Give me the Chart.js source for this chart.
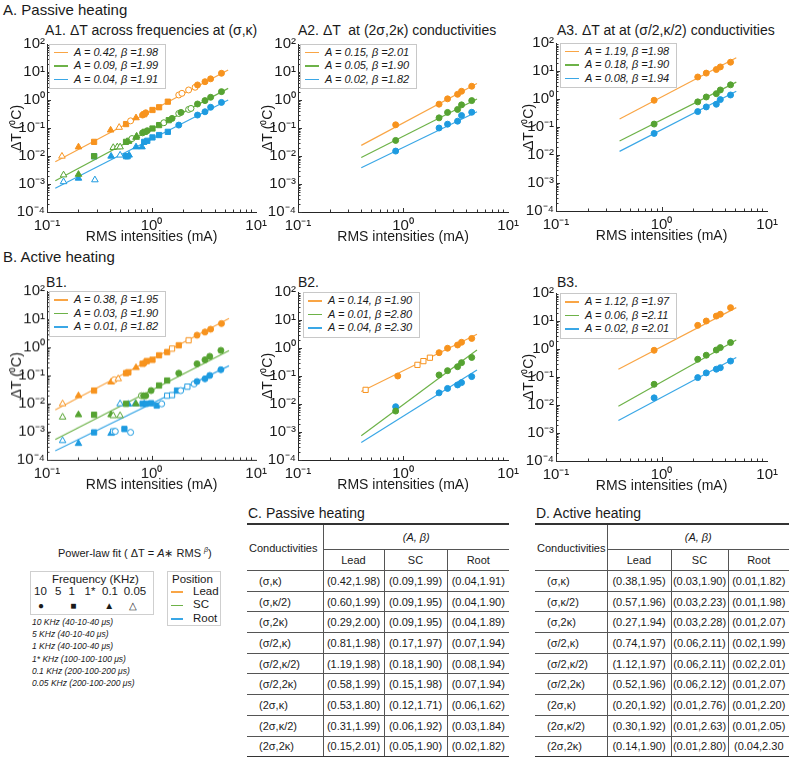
<!DOCTYPE html>
<html>
<head>
<meta charset="utf-8">
<script src="https://cdn.jsdelivr.net/npm/chart.js@4.4.1/dist/chart.umd.min.js"></script>
<style>
  body { margin: 0; width: 800px; height: 759px; background: #fff; position: relative; overflow: hidden;
         font-family: "Liberation Sans", Arial, sans-serif; color: #1a1a1a; }
  .abs { position: absolute; white-space: nowrap; }
  canvas { position: absolute; }
  .sec { font-size: 15px; }
  .ttl { font-size: 14px; }
  .lg { position: absolute; border: 1px solid #c8c8c8; background: #fff; font-size: 11px; font-style: italic;
        padding: 1px 7px 2px 4px; box-sizing: border-box; }
  .lg div { height: 13.5px; line-height: 13.5px; white-space: nowrap; }
  .lg b { display: inline-block; width: 14px; height: 1.5px; vertical-align: middle; margin-right: 6px; }
  table.t { position: absolute; border-collapse: collapse; table-layout: fixed; font-size: 11px; }
  table.t td { border-top: 1px solid #555; padding: 0; text-align: center; height: 19.7px; }
  table.t tr:first-child td { border-top: 2px solid #333; height: 24px; }
  table.t tr:nth-child(2) td { height: 20px; }
  table.t tr:last-child td { border-bottom: 1.5px solid #333; }
  table.t td.v { border-left: 1px solid #555; }
  table.t td.c { text-align: left; padding-left: 12px; }
  .box { position: absolute; border: 1px solid #cfcfcf; box-sizing: border-box; }
  .note { font-size: 8.5px; font-style: italic; }
</style>
</head>
<body>
<div class="abs sec" style="left:3px;top:1px">A. Passive heating</div>
<div class="abs sec" style="left:3px;top:248px">B. Active heating</div>

<div class="abs ttl" style="left:45px;top:22px">A1. ΔT across frequencies at (σ,κ)</div>
<div class="abs ttl" style="left:298px;top:22px">A2. ΔT &nbsp;at (2σ,2κ) conductivities</div>
<div class="abs ttl" style="left:557px;top:22px">A3. ΔT at at (σ/2,κ/2) conductivities</div>
<div class="abs ttl" style="left:46px;top:274px">B1.</div>
<div class="abs ttl" style="left:298px;top:274px">B2.</div>
<div class="abs ttl" style="left:557px;top:274px">B3.</div>

<div class="abs" style="left:58px;top:546px;font-size:11px">Power-law fit ( ΔT = <i>A</i>∗ RMS <sup style="font-size:7px"><i>β</i></sup>)</div>
<div class="box" style="left:30px;top:571px;width:124px;height:44px"></div>
<div class="abs" style="left:52px;top:573px;font-size:11.5px">Frequency (KHz)</div>
<div id="freq"></div>
<div class="box" style="left:167px;top:571px;width:54px;height:55px"></div>
<div class="abs" style="left:172px;top:573px;font-size:11.5px">Position</div>
<div id="pos"></div>
<div id="notes"></div>

<div class="abs ttl" style="left:248px;top:505px">C. Passive heating</div>
<div class="abs ttl" style="left:536px;top:505px">D. Active heating</div>

<script>
// ---- panel data (x in mA, y in degC) ----
// marks: c filled circle, o open circle, s filled square, q open square, t filled triangle, v open triangle
const tenX = [0.85, 2.2, 2.65, 3.3, 3.6, 4.5];

const a1LeadX = [0.139, 0.20, 0.282, 0.406, 0.49, 0.57, 0.63, 0.71, 0.82, 0.85, 0.88, 1.02, 1.18, 1.43, 1.82, 1.95, 2.26, 2.61, 2.75, 3.24, 3.67, 4.66];
const a1LeadY = [0.0098, 0.021, 0.032, 0.084, 0.105, 0.138, 0.18, 0.23, 0.29, 0.31, 0.35, 0.44, 0.55, 0.87, 1.51, 1.73, 2.28, 2.85, 3.45, 4.5, 5.7, 9.0];
const a1LeadM = 'v t s t v s o t c s c s s s o o o o c c c c';
const a1ScX = [0.144, 0.20, 0.282, 0.43, 0.47, 0.50, 0.57, 0.61, 0.65, 0.71, 0.72, 0.82, 0.86, 0.91, 1.02, 1.18, 1.31, 1.46, 1.57, 1.82, 1.91, 2.26, 2.38, 2.75, 3.24, 3.67, 4.66];
const a1ScY = [0.0021, 0.0022, 0.0098, 0.020, 0.021, 0.021, 0.032, 0.035, 0.042, 0.046, 0.051, 0.067, 0.073, 0.080, 0.096, 0.127, 0.154, 0.19, 0.22, 0.33, 0.36, 0.46, 0.50, 0.72, 0.95, 1.25, 1.99];
const a1ScM = 'v t s v v v s s o t t c s c s s o s c o c o o c c c c';
const a1RootX = [0.144, 0.20, 0.282, 0.287, 0.41, 0.50, 0.57, 0.59, 0.61, 0.71, 0.81, 0.85, 0.91, 1.02, 1.18, 1.43, 1.82, 2.75, 3.24, 3.67, 4.66];
const a1RootY = [0.0012, 0.0016, 0.0098, 0.0014, 0.0098, 0.0107, 0.0098, 0.0098, 0.0107, 0.021, 0.021, 0.032, 0.035, 0.046, 0.056, 0.073, 0.127, 0.29, 0.38, 0.55, 0.82];
const a1RootM = 'v t s v t v s s t t t s s s s s c c c c c';
const a1FitX = [0.12, 5.4];
const a1FitLead = [0.0062, 11.8], a1FitSc = [0.0013, 2.6], a1FitRoot = [0.0007, 1.0];

const a2Lead = [0.13, 0.71, 1.1, 1.6, 2.05, 3.1];
const a2Sc = [0.036, 0.23, 0.36, 0.46, 0.67, 0.95];
const a2Root = [0.015, 0.10, 0.137, 0.175, 0.28, 0.365];
const a2FitX = [0.4, 5.05];
const a2FitLead = [0.024, 3.9], a2FitSc = [0.0088, 1.09], a2FitRoot = [0.0038, 0.38];

const a3Lead = [0.9, 6.1, 8.4, 11.3, 14, 20.6];
const a3Sc = [0.127, 0.79, 1.18, 1.55, 2.1, 3.2];
const a3Root = [0.059, 0.355, 0.52, 0.65, 0.95, 1.39];
const a3FitX = [0.4, 5.1];
const a3FitLead = [0.194, 29.9], a3FitSc = [0.0315, 4.0], a3FitRoot = [0.0135, 1.89];

const b1LeadX = [0.141, 0.20, 0.282, 0.41, 0.44, 0.48, 0.57, 0.60, 0.71, 0.82, 0.85, 0.90, 1.02, 1.18, 1.41, 1.57, 1.82, 2.26, 2.72, 3.24, 3.67, 4.66];
const b1LeadY = [0.0098, 0.019, 0.029, 0.058, 0.070, 0.076, 0.121, 0.13, 0.19, 0.26, 0.275, 0.325, 0.36, 0.52, 0.68, 0.9, 1.18, 1.78, 2.7, 3.5, 4.4, 7.0];
const b1LeadM = 'v t s t o v s s t s c s s s s q s q c c c c';
const b1ScX = [0.141, 0.20, 0.282, 0.41, 0.43, 0.50, 0.57, 0.71, 0.80, 0.84, 0.88, 0.99, 1.18, 1.41, 1.82, 2.72, 3.24, 3.6, 4.6];
const b1ScY = [0.0033, 0.004, 0.004, 0.004, 0.0037, 0.0037, 0.0098, 0.0098, 0.019, 0.019, 0.019, 0.029, 0.044, 0.066, 0.12, 0.26, 0.36, 0.48, 0.78];
const b1ScM = 'v t s t v v s t o c c c s s c c c c c';
const b1RootX = [0.141, 0.20, 0.282, 0.41, 0.43, 0.45, 0.50, 0.55, 0.60, 0.63, 0.70, 0.82, 0.85, 0.88, 0.99, 1.12, 1.25, 1.41, 1.57, 1.75, 1.9, 2.2, 2.55, 2.72, 3.24, 3.6, 4.6];
const b1RootY = [0.00048, 0.00038, 0.00095, 0.00087, 0.00103, 0.00103, 0.0098, 0.00125, 0.0095, 0.00095, 0.0098, 0.0098, 0.0098, 0.0098, 0.0103, 0.0085, 0.0098, 0.019, 0.02, 0.029, 0.029, 0.040, 0.05, 0.061, 0.076, 0.1, 0.16];
const b1RootM = 'v t s t q o v s t o t s t s s s o q q s o q o c c c c';
const b1FitX = [0.12, 5.5];
const b1FitLead = [0.006, 10.6], b1FitSc = [0.00053, 0.77], b1FitRoot = [0.00021, 0.22];

const b2LeadX = [0.44, 0.89, 1.37, 1.56, 1.8, 2.2, 2.65, 3.3, 3.6, 4.5];
const b2LeadY = [0.032, 0.10, 0.25, 0.34, 0.45, 0.68, 0.98, 1.28, 1.6, 2.2];
const b2LeadM = 'q c q q q c c c c c';
const b2Sc = [0.0056, 0.109, 0.155, 0.215, 0.30, 0.46];
const b2Root = [0.008, 0.025, 0.036, 0.048, 0.058, 0.095];
const b2FitX = [0.4, 5.05];
const b2FitLead = [0.028, 3.1], b2FitSc = [0.00074, 0.85], b2FitRoot = [0.00042, 0.165];

const b3Lead = [0.9, 7.0, 10, 15, 17.4, 30];
const b3Sc = [0.055, 0.43, 0.6, 0.92, 1.12, 1.7];
const b3Root = [0.018, 0.095, 0.14, 0.19, 0.215, 0.37];
const b3FitX = [0.39, 5.1];
const b3FitLead = [0.19, 30], b3FitSc = [0.009, 2.1], b3FitRoot = [0.0028, 0.5];

// legend values (A, beta) per panel
const a1Params = [['0.42', '1.98'], ['0.09', '1.99'], ['0.04', '1.91']];
const a2Params = [['0.15', '2.01'], ['0.05', '1.90'], ['0.02', '1.82']];
const a3Params = [['1.19', '1.98'], ['0.18', '1.90'], ['0.08', '1.94']];
const b1Params = [['0.38', '1.95'], ['0.03', '1.90'], ['0.01', '1.82']];
const b2Params = [['0.14', '1.90'], ['0.01', '2.80'], ['0.04', '2.30']];
const b3Params = [['1.12', '1.97'], ['0.06', '2.11'], ['0.02', '2.01']];

const xTickVals = [0.1, 1, 10];
const yTickVals = [1e-4, 1e-3, 1e-2, 1e-1, 1, 10, 100];

// tables
const conductivities = ['(σ,κ)', '(σ,κ/2)', '(σ,2κ)', '(σ/2,κ)', '(σ/2,κ/2)', '(σ/2,2κ)', '(2σ,κ)', '(2σ,κ/2)', '(2σ,2κ)'];
const passiveLead = ['(0.42,1.98)', '(0.60,1.99)', '(0.29,2.00)', '(0.81,1.98)', '(1.19,1.98)', '(0.58,1.99)', '(0.53,1.80)', '(0.31,1.99)', '(0.15,2.01)'];
const passiveSC = ['(0.09,1.99)', '(0.09,1.95)', '(0.09,1.95)', '(0.17,1.97)', '(0.18,1.90)', '(0.15,1.98)', '(0.12,1.71)', '(0.06,1.92)', '(0.05,1.90)'];
const passiveRoot = ['(0.04,1.91)', '(0.04,1.90)', '(0.04,1.89)', '(0.07,1.94)', '(0.08,1.94)', '(0.07,1.94)', '(0.06,1.62)', '(0.03,1.84)', '(0.02,1.82)'];
const activeLead = ['(0.38,1.95)', '(0.57,1.96)', '(0.27,1.94)', '(0.74,1.97)', '(1.12,1.97)', '(0.52,1.96)', '(0.20,1.92)', '(0.30,1.92)', '(0.14,1.90)'];
const activeSC = ['(0.03,1.90)', '(0.03,2.23)', '(0.03,2.28)', '(0.06,2.11)', '(0.06,2.11)', '(0.06,2.12)', '(0.01,2.76)', '(0.01,2.63)', '(0.01,2.80)'];
const activeRoot = ['(0.01,1.82)', '(0.01,1.98)', '(0.01,2.07)', '(0.02,1.99)', '(0.02,2.01)', '(0.01,2.07)', '(0.01,2.20)', '(0.01,2.05)', '(0.04,2.30'];

const positions = ['Lead', 'SC', 'Root'];
const freqLabels = ['10', '5', '1', '1*', '0.1', '0.05'];
const freqNotes = ['10 KHz (40-10-40 μs)', '5 KHz (40-10-40 μs)', '1 KHz (40-100-40 μs)', '1* KHz (100-100-100 μs)', '0.1 KHz (200-100-200 μs)', '0.05 KHz (200-100-200 μs)'];

// ---- drawing ----
const colors = ['#F7931E', '#56A332', '#1E9BE0'];
const lineColors = ['#F9A545', '#6DB248', '#3AA7E6'];
const FONT = '"Liberation Sans", Arial, sans-serif';
Chart.defaults.font.family = FONT;
Chart.defaults.color = '#1a1a1a';

const SUP = { '-': '⁻', '0': '⁰', '1': '¹', '2': '²', '3': '³', '4': '⁴' };
function powLabel(v) {
    var e = Math.round(Math.log10(v));
    return '10' + String(e).split('').map(ch => SUP[ch]).join('');
}

const styleOf = { c: 'circle', o: 'circle', s: 'rect', q: 'rect', t: 'triangle', v: 'triangle' };
const radiusOf = { c: 3, o: 3, s: 3.7, q: 3.7, t: 3.8, v: 3.8 };

const innerTicks = {
    id: 'innerTicks',
    afterDraw(chart) {
        const { ctx, chartArea: a, scales: { x, y } } = chart;
        ctx.save();
        ctx.strokeStyle = '#333';
        ctx.lineWidth = 1;
        ctx.beginPath();
        for (let e = -1; e <= 0; e++) {
            for (let k = 1; k <= 9; k++) {
                const px = Math.round(x.getPixelForValue(k * Math.pow(10, e))) + 0.5;
                const len = k === 1 ? 4 : 2.5;
                ctx.moveTo(px, a.bottom); ctx.lineTo(px, a.bottom - len);
            }
        }
        for (let e = -4; e <= 1; e++) {
            for (let k = 1; k <= 9; k++) {
                const py = Math.round(y.getPixelForValue(k * Math.pow(10, e))) + 0.5;
                const len = k === 1 ? 4 : 2.5;
                ctx.moveTo(a.left, py); ctx.lineTo(a.left + len, py);
            }
        }
        ctx.stroke();
        ctx.restore();
    }
};

function scatterSet(xs, ys, marks, i) {
    var m = marks ? marks.split(' ') : xs.map(() => 'c');
    return {
        data: xs.map((x, j) => ({ x: x, y: ys[j] })),
        pointStyle: ctx => styleOf[m[ctx.dataIndex]],
        pointRadius: ctx => radiusOf[m[ctx.dataIndex]],
        pointBorderColor: colors[i],
        pointBackgroundColor: ctx => ('oqv'.indexOf(m[ctx.dataIndex]) >= 0 ? '#fff' : colors[i]),
        pointBorderWidth: 1,
        order: 0
    };
}

function fitSet(fx, fy, i) {
    return {
        data: [{ x: fx[0], y: fy[0] }, { x: fx[1], y: fy[1] }],
        showLine: true,
        borderColor: lineColors[i],
        borderWidth: 1.2,
        pointRadius: 0,
        order: 1
    };
}

function makePanel(p) {
    var T = p.top - 12, W = p.right + 14 - p.L, H = p.bottom + 36 - T;
    var c = document.createElement('canvas');
    c.width = W; c.height = H;
    c.style.left = p.L + 'px'; c.style.top = T + 'px';
    c.style.width = W + 'px'; c.style.height = H + 'px';
    document.body.appendChild(c);

    new Chart(c, {
        type: 'scatter',
        data: { datasets: p.datasets },
        options: {
            responsive: false,
            animation: false,
            devicePixelRatio: 1,
            events: [],
            layout: { padding: { left: 0, top: 12, right: 14, bottom: 0 } },
            plugins: { legend: { display: false }, tooltip: { enabled: false } },
            scales: {
                x: {
                    type: 'logarithmic', min: 0.1, max: 10,
                    afterFit: s => { s.height = 36; },
                    afterBuildTicks: s => { s.ticks = xTickVals.map(v => ({ value: v })); },
                    grid: { display: false, drawTicks: false },
                    border: { display: true, color: '#262626', width: 1 },
                    ticks: { autoSkip: false, maxRotation: 0, padding: 5, font: { size: 15 }, callback: v => powLabel(v) },
                    title: { display: true, text: 'RMS intensities (mA)', font: { size: 14 }, padding: { top: 0, bottom: 2.6 } }
                },
                y: {
                    type: 'logarithmic', min: 1e-4, max: 100,
                    afterFit: s => { s.width = p.left - p.L; },
                    afterBuildTicks: s => { s.ticks = yTickVals.map(v => ({ value: v })); },
                    grid: { display: false, drawTicks: false },
                    border: { display: true, color: '#262626', width: 1 },
                    ticks: { autoSkip: false, padding: 2, font: { size: 15 }, callback: v => powLabel(v) },
                    title: { display: true, text: 'ΔT (⁰C)', font: { size: 14 }, padding: { top: p.yTitle - p.L - 8.4, bottom: 0 } }
                }
            }
        },
        plugins: [innerTicks]
    });

    // legend box inside the axes
    var lg = document.createElement('div');
    lg.className = 'lg';
    lg.style.left = p.lgLeft + 'px';
    lg.style.top = p.top + 'px';
    lg.innerHTML = p.params.map((a, i) =>
        '<div><b style="background:' + lineColors[i] + '"></b>A = ' + a[0] + ', β =' + a[1] + '</div>').join('');
    document.body.appendChild(lg);
}

function tenSets(lead, sc, root) {
    return [scatterSet(tenX, lead, null, 0), scatterSet(tenX, sc, null, 1), scatterSet(tenX, root, null, 2)];
}
function fitSets(fx, l, s, r) {
    return [fitSet(fx, l, 0), fitSet(fx, s, 1), fitSet(fx, r, 2)];
}

makePanel({
    L: 0, left: 47, right: 258, top: 43.5, bottom: 211.5, yTitle: 17, lgLeft: 49, params: a1Params,
    datasets: [scatterSet(a1LeadX, a1LeadY, a1LeadM, 0), scatterSet(a1ScX, a1ScY, a1ScM, 1), scatterSet(a1RootX, a1RootY, a1RootM, 2)]
        .concat(fitSets(a1FitX, a1FitLead, a1FitSc, a1FitRoot))
});
makePanel({
    L: 256, left: 298, right: 510, top: 43.5, bottom: 211.5, yTitle: 268, lgLeft: 300, params: a2Params,
    datasets: tenSets(a2Lead, a2Sc, a2Root).concat(fitSets(a2FitX, a2FitLead, a2FitSc, a2FitRoot))
});
makePanel({
    L: 518, left: 556, right: 769, top: 42.5, bottom: 210.5, yTitle: 529, lgLeft: 560, params: a3Params,
    datasets: tenSets(a3Lead, a3Sc, a3Root).concat(fitSets(a3FitX, a3FitLead, a3FitSc, a3FitRoot))
});
makePanel({
    L: 0, left: 47, right: 258, top: 291, bottom: 459.5, yTitle: 17, lgLeft: 49, params: b1Params,
    datasets: [scatterSet(b1LeadX, b1LeadY, b1LeadM, 0), scatterSet(b1ScX, b1ScY, b1ScM, 1), scatterSet(b1RootX, b1RootY, b1RootM, 2)]
        .concat(fitSets(b1FitX, b1FitLead, b1FitSc, b1FitRoot))
});
makePanel({
    L: 256, left: 298, right: 510, top: 292, bottom: 460, yTitle: 268, lgLeft: 303, params: b2Params,
    datasets: [scatterSet(b2LeadX, b2LeadY, b2LeadM, 0), scatterSet(tenX, b2Sc, null, 1), scatterSet(tenX, b2Root, null, 2)]
        .concat(fitSets(b2FitX, b2FitLead, b2FitSc, b2FitRoot))
});
makePanel({
    L: 518, left: 556, right: 769, top: 293, bottom: 461, yTitle: 529, lgLeft: 560, params: b3Params,
    datasets: tenSets(b3Lead, b3Sc, b3Root).concat(fitSets(b3FitX, b3FitLead, b3FitSc, b3FitRoot))
});

// ---- tables ----
function makeTable(left, widths, lead, sc, root) {
    var t = document.createElement('table');
    t.className = 't';
    t.style.left = left + 'px';
    t.style.top = '523px';
    t.style.width = widths.reduce((a, b) => a + b, 0) + 'px';
    var html = '<colgroup>' + widths.map(w => '<col style="width:' + w + 'px">').join('') + '</colgroup>';
    html += '<tr><td rowspan="2" style="text-align:left;padding-left:2px">Conductivities</td><td class="v" colspan="3"><i>(A, β)</i></td></tr>';
    html += '<tr>' + positions.map(p => '<td class="v">' + p + '</td>').join('') + '</tr>';
    conductivities.forEach((c, i) => {
        html += '<tr><td class="c">' + c + '</td><td class="v">' + lead[i] + '</td><td class="v">' + sc[i] + '</td><td class="v">' + root[i] + '</td></tr>';
    });
    t.innerHTML = html;
    document.body.appendChild(t);
}
makeTable(247, [76, 61, 63, 62], passiveLead, passiveSC, passiveRoot);
makeTable(535, [72, 64, 57, 61], activeLead, activeSC, activeRoot);

// ---- frequency / position legend ----
var freqX = [40.5, 58.3, 71.7, 90, 110, 135];
var fq = '';
freqLabels.forEach((f, i) => {
    fq += '<div class="abs" style="font-size:11.5px;top:585px;left:' + freqX[i] + 'px;transform:translateX(-50%)">' + f + '</div>';
});
var markerGlyphs = [['●', 41], ['■', 73.3], ['▲', 109.3], ['△', 133.3]];
markerGlyphs.forEach(g => {
    fq += '<div class="abs" style="font-size:10px;top:600px;left:' + g[1] + 'px;transform:translateX(-50%)">' + g[0] + '</div>';
});
document.getElementById('freq').innerHTML = fq;

var ps = '';
positions.forEach((p, i) => {
    var yy = 591.7 + i * 13.6;
    ps += '<div class="abs" style="left:171px;top:' + (yy - 0.7) + 'px;width:12px;height:1.5px;background:' + lineColors[i] + '"></div>';
    ps += '<div class="abs" style="left:193px;top:' + (yy - 7) + 'px;font-size:11.5px">' + p + '</div>';
});
document.getElementById('pos').innerHTML = ps;

var nt = '';
freqNotes.forEach((n, i) => {
    nt += '<div class="abs note" style="left:32px;top:' + (617 + i * 12.2) + 'px">' + n + '</div>';
});
document.getElementById('notes').innerHTML = nt;
</script>
</body>
</html>
